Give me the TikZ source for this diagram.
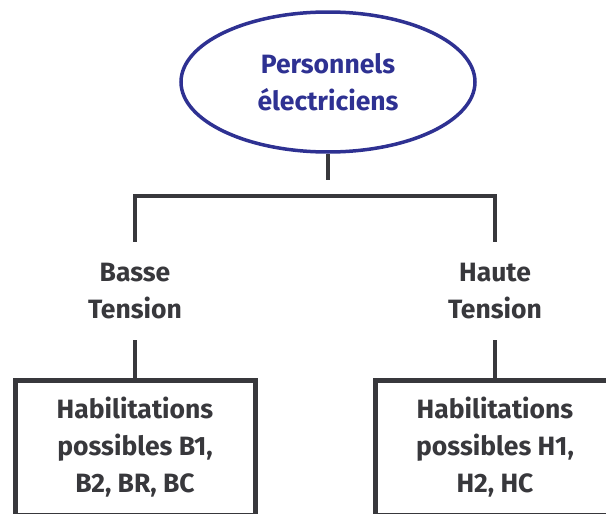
\documentclass[tikz,border=0pt]{standalone}
\usepackage{fontspec}
\setmainfont{Fira Sans}
\usetikzlibrary{shapes.geometric}
\definecolor{encre}{HTML}{2E3192}
\definecolor{trait}{HTML}{38383C}
\tikzset{
  texte/.style={font=\fontsize{26.5}{37}\selectfont\bfseries, align=center},
  titre/.style={texte, ellipse, draw=encre, line width=3.5pt, text=encre,
    minimum width=294pt, minimum height=140pt},
  niveau/.style={texte, text=trait, minimum height=98pt, inner sep=0pt},
  cadre/.style={texte, draw=trait, text=trait, line width=5pt,
    minimum width=240pt, minimum height=135pt, inner sep=0pt},
  lien/.style={draw=trait, line width=4.5pt}
}
\begin{document}
\begin{tikzpicture}[x=1pt,y=-1pt]
  \useasboundingbox (0,0) rectangle (606,514);
  \clip (0,0) rectangle (606,514);

  \node[titre] (perso) at (328,82) {Personnels\\électriciens};

  \node[niveau] (bt) at (135,291) {Basse\\Tension};
  \node[niveau] (ht) at (495,291) {Haute\\Tension};

  \node[cadre] (bhab) at (135,447.5) {Habilitations\\possibles B1,\\B2, BR, BC};
  \node[cadre] (hhab) at (495,447.5) {Habilitations\\possibles H1,\\H2, HC};

  \draw[lien] (perso.south) -- ++(0,26);
  \draw[lien] (bt.north) -- ++(0,-46) -| (ht.north);
  \draw[lien] (bt.south) -- (bhab.north);
  \draw[lien] (ht.south) -- (hhab.north);
\end{tikzpicture}
\end{document}
